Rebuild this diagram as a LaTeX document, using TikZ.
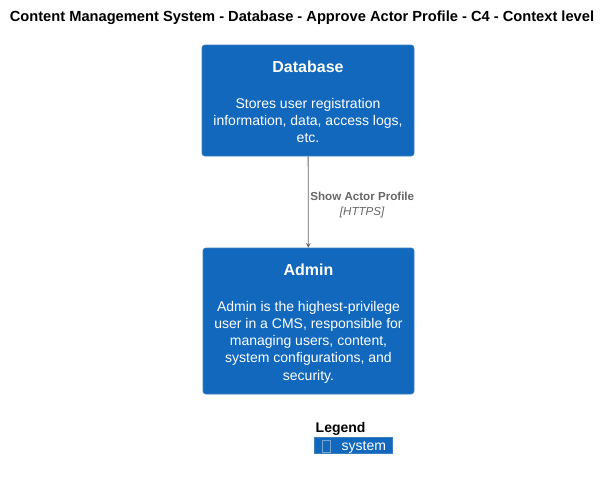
\documentclass[tikz,border=0pt]{standalone}
\usepackage{fontspec}
\setmainfont{Liberation Sans}
\usetikzlibrary{shapes.geometric, arrows}
\definecolor{sysblue}{HTML}{1168BD}
\definecolor{sysborder}{HTML}{3C7FC0}
\definecolor{relgrey}{HTML}{666666}
\tikzstyle{systembox} = [rectangle, rounded corners=2pt, draw=sysborder, fill=sysblue, inner sep=0pt]
\tikzstyle{sysname} = [text=white, font=\fontsize{12}{14}\selectfont\bfseries]
\tikzstyle{sysdesc} = [text=white, align=center, font=\fontsize{10.5}{12.9}\selectfont]
\tikzstyle{arrow} = [semithick,->,>=stealth, draw=relgrey]

\begin{document}
\begin{tikzpicture}[x=0.75pt, y=-0.75pt]
    \useasboundingbox (0,0) rectangle (612,479);
    \node (title) at (302,18) {\fontsize{11}{12}\selectfont\bfseries Content Management System - Database - Approve Actor Profile - C4 - Context level};

    \node (db) [systembox, minimum width=159pt, minimum height=83.25pt] at (308,100.5) {};
    \node (dbname) [sysname] at (308,67) {Database};
    \node (dbdesc) [sysdesc] at (308,120.5) {Stores user registration\\information, data, access logs,\\etc.};

    \node (admin) [systembox, minimum width=158.25pt, minimum height=109.5pt] at (308.5,321) {};
    \node (adminname) [sysname] at (308.5,270) {Admin};
    \node (admindesc) [sysdesc] at (308.5,342) {Admin is the highest-privilege\\user in a CMS, responsible for\\managing users, content,\\system configurations, and\\security.};

    \draw[arrow] (db) -- node[anchor=west, align=center, text=relgrey, font=\fontsize{8.7}{11.5}\selectfont, xshift=-2pt, yshift=-2pt] {\textbf{Show Actor Profile}\\\textit{[HTTPS]}} (admin); % relation label

    \node (legend) [anchor=west, font=\fontsize{10.5}{12}\selectfont\bfseries] at (311,429) {Legend};
    \node (legsys) [rectangle, fill=sysblue, draw=sysborder, minimum width=58.5pt, minimum height=12pt, inner sep=0pt] at (353,445) {};
    \node (legtext) [anchor=west, text=white, font=\fontsize{10.5}{12}\selectfont] at (337,447) {system};
    \node (legglyph) [rectangle, draw=sysborder!70!white, thin, minimum width=6pt, minimum height=9pt, inner sep=0pt] at (326,446) {};
\end{tikzpicture}
\end{document}
